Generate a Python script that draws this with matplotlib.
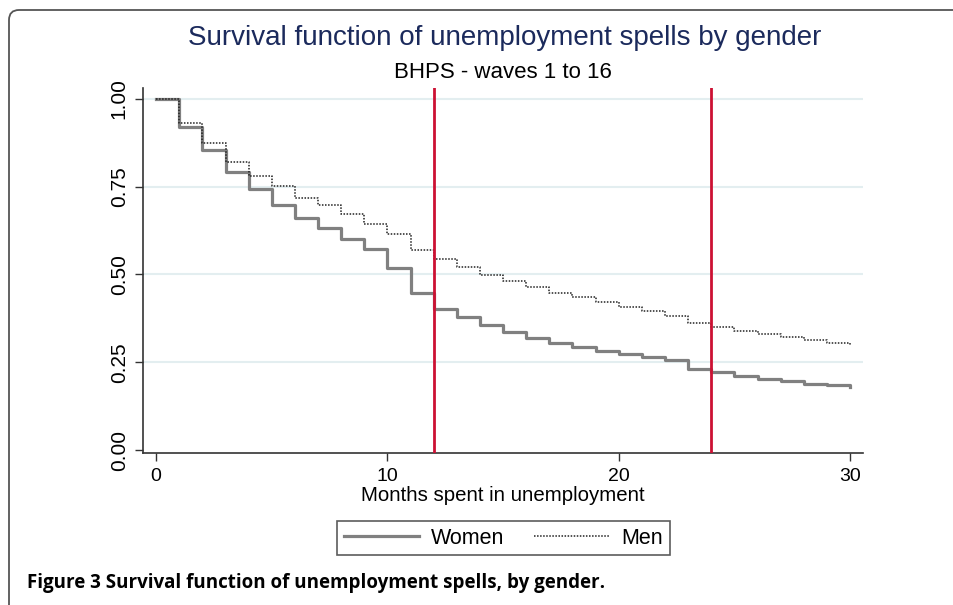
import matplotlib
matplotlib.use('Agg')
import matplotlib.pyplot as plt
from matplotlib.patches import FancyBboxPatch

# data (survival value on [month, month+1))
months = list(range(0, 31))
women = [1.0, 0.920, 0.855, 0.792, 0.742, 0.698, 0.662, 0.631, 0.602, 0.573,
         0.517, 0.447, 0.401, 0.380, 0.356, 0.337, 0.320, 0.305, 0.294, 0.283,
         0.274, 0.265, 0.255, 0.232, 0.221, 0.210, 0.201, 0.197, 0.189, 0.185, 0.180]
men = [1.0, 0.930, 0.875, 0.819, 0.781, 0.752, 0.719, 0.697, 0.672, 0.645,
       0.614, 0.571, 0.545, 0.520, 0.498, 0.481, 0.464, 0.448, 0.436, 0.421,
       0.408, 0.396, 0.383, 0.362, 0.350, 0.338, 0.331, 0.321, 0.312, 0.305, 0.300]
cutoffs = [12, 24]
x_ticks = [0, 10, 20, 30]
y_ticks = [0.0, 0.25, 0.5, 0.75, 1.0]

plt.rcParams['font.family'] = ['Liberation Sans', 'DejaVu Sans']

W, H = 954, 605
fig = plt.figure(figsize=(W / 100, H / 100), dpi=100)

# outer frame with rounded corner (pixel coords)
frame = FancyBboxPatch((9, -30), 1000, H - 10 + 30, boxstyle='round,pad=0,rounding_size=10',
                       transform=None, fill=False, edgecolor='#555555', linewidth=1.3)
fig.patches.append(frame)

ax = fig.add_axes([142.7 / W, (H - 453) / H, (863 - 142.7) / W, (453 - 88) / H])

for yv in y_ticks[1:]:
    ax.axhline(yv, color='#e3eef0', linewidth=1.5, zorder=0)

ax.step(months, women, where='post', color='#808080', linewidth=2.3, label='Women', zorder=3)
ax.step(months, men, where='post', color='#222222', linewidth=1.1,
        linestyle=(0, (1, 1)), label='Men', zorder=3)
for c in cutoffs:
    ax.axvline(c, color='#cc1133', linewidth=2, zorder=4)

ax.set_xlim(-0.58, 30.56)
ax.set_ylim(-0.0085, 1.031)
ax.set_xticks(x_ticks)
ax.set_yticks(y_ticks)
ax.set_yticklabels(['0.00', '0.25', '0.50', '0.75', '1.00'], rotation=90, va='center')
ax.tick_params(length=6, width=1, color='#333333')
ax.tick_params(axis='x', labelsize=14, pad=5)
ax.tick_params(axis='y', labelsize=15, pad=4)
for s in ['top', 'right']:
    ax.spines[s].set_visible(False)
for s in ['left', 'bottom']:
    ax.spines[s].set_color('#333333')
    ax.spines[s].set_linewidth(1.2)

ax.set_xlabel('Months spent in unemployment', fontsize=14.7)
ax.xaxis.set_label_coords(0.5 + (503 - 503) / W, -(486 - 453) / 365)

# titles
fig.text(505 / W, (H - 38) / H, 'Survival function of unemployment spells by gender',
         ha='center', va='center', fontsize=20, color='#1b2a5c')
fig.text(503 / W, (H - 72) / H, 'BHPS - waves 1 to 16', ha='center', va='center',
         fontsize=16, color='black')

leg = ax.legend(loc='center', bbox_to_anchor=(503.5 / W, (H - 538) / H),
                bbox_transform=fig.transFigure, ncol=2, fontsize=15.5, frameon=True,
                fancybox=False, edgecolor='#333333', handlelength=3.5, columnspacing=1.4,
                handletextpad=0.55, borderpad=0.3, borderaxespad=0)
leg.get_frame().set_linewidth(1.2)

fig.text(27 / W, (H - 583) / H, 'Figure 3 Survival function of unemployment spells, by gender.',
         ha='left', va='center', fontsize=13.5, fontweight='bold', family=['Open Sans', 'DejaVu Sans'])

fig.savefig('out.png', dpi=100)
